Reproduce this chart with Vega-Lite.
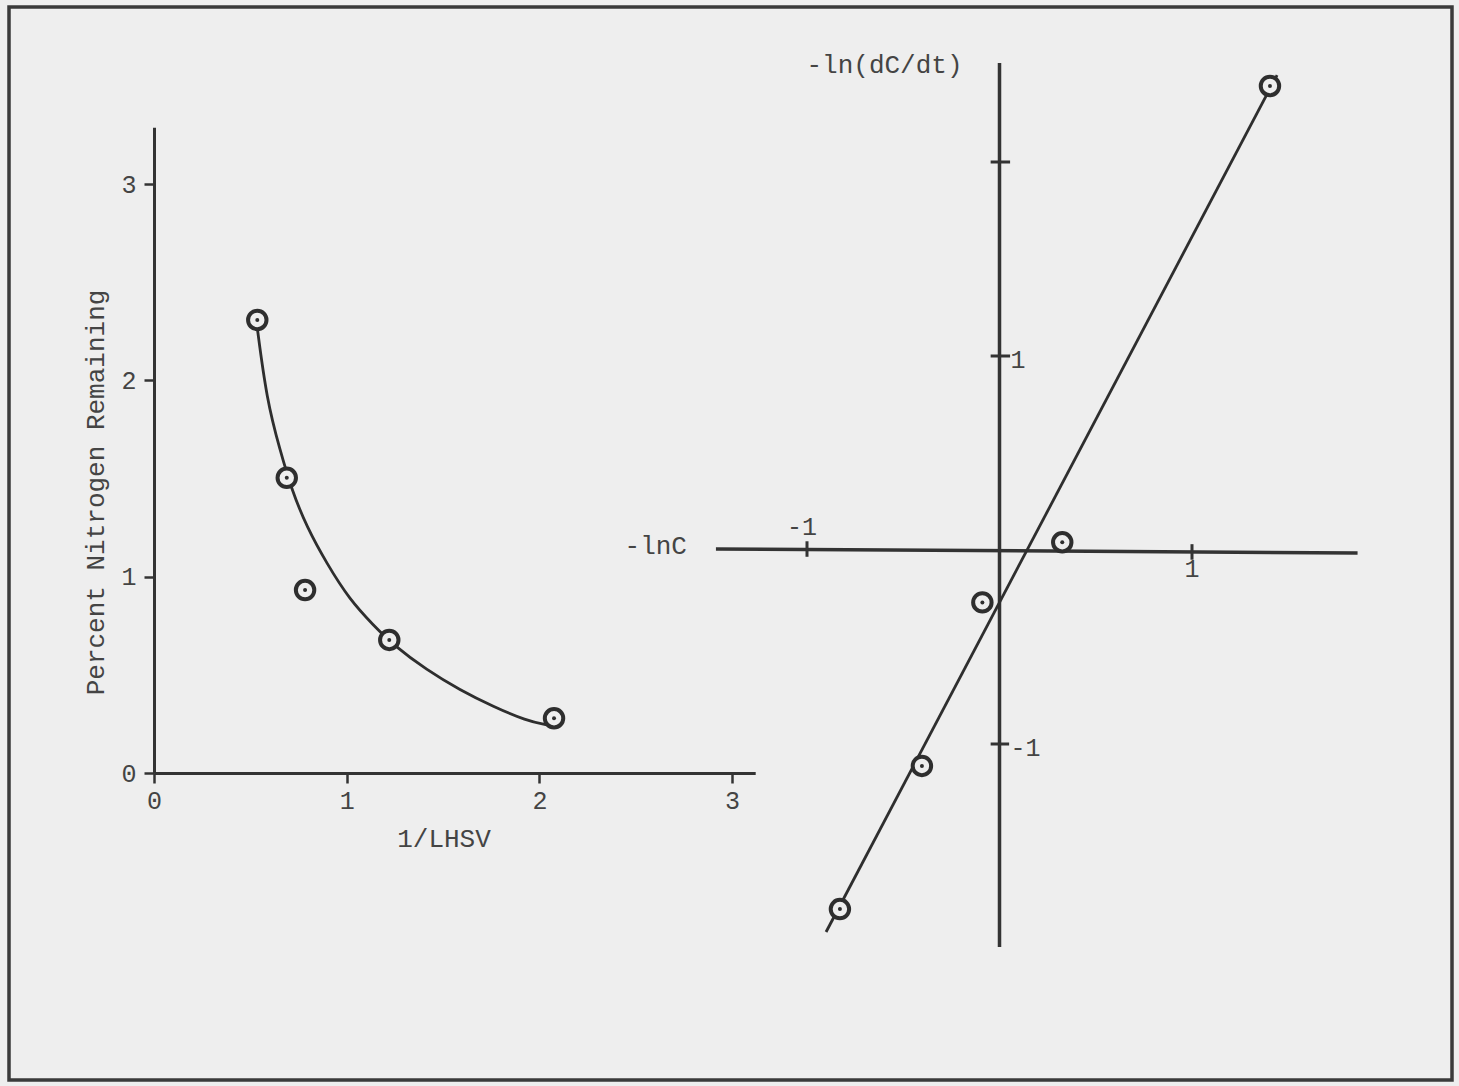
{
  "$schema": "https://vega.github.io/schema/vega-lite/v6.json",
  "width": 1443,
  "height": 1073,
  "autosize": {"type": "none"},
  "padding": {"left": 9, "top": 7, "right": 7, "bottom": 6},
  "background": "#eeeeee",
  "config": {
    "view": {"stroke": "#3a3a3a", "strokeWidth": 3.5},
    "font": "Liberation Mono"
  },
  "datasets": {
    "left_points": [
      {"x": 0.536, "y": 2.308},
      {"x": 0.689, "y": 1.504},
      {"x": 0.784, "y": 0.932},
      {"x": 1.221, "y": 0.678},
      {"x": 2.076, "y": 0.279}
    ],
    "left_curve": [
      {"x": 0.533, "y": 2.29},
      {"x": 0.585, "y": 1.9},
      {"x": 0.654, "y": 1.645},
      {"x": 0.715, "y": 1.442},
      {"x": 0.792, "y": 1.255},
      {"x": 0.896, "y": 1.068},
      {"x": 1.017, "y": 0.881},
      {"x": 1.138, "y": 0.754},
      {"x": 1.242, "y": 0.652},
      {"x": 1.415, "y": 0.525},
      {"x": 1.588, "y": 0.423},
      {"x": 1.761, "y": 0.338},
      {"x": 1.934, "y": 0.266},
      {"x": 2.038, "y": 0.245}
    ],
    "right_points": [
      {"x": 1.405, "y": 2.392},
      {"x": 0.326, "y": 0.04},
      {"x": -0.089, "y": -0.27},
      {"x": -0.403, "y": -1.113},
      {"x": -0.829, "y": -1.851}
    ],
    "right_line": [
      {"x": -0.901, "y": -1.969},
      {"x": 1.442, "y": 2.448}
    ],
    "right_axes": [
      {"x": -1.473, "y": 0.005, "x2": 1.86, "y2": -0.015},
      {"x": 0, "y": -2.046, "x2": 0, "y2": 2.51}
    ],
    "right_ticks": [
      {"x": -1, "y": 0.045, "x2": -1, "y2": -0.035},
      {"x": 1, "y": 0.03, "x2": 1, "y2": -0.05},
      {"x": -0.046, "y": 2, "x2": 0.055, "y2": 2},
      {"x": -0.046, "y": 1, "x2": 0.055, "y2": 1},
      {"x": -0.046, "y": -1, "x2": 0.05, "y2": -1}
    ],
    "label_above": [{"x": -1, "y": 0, "label": "-1"}],
    "label_below": [{"x": 1, "y": 0, "label": "1"}],
    "label_right": [
      {"x": 0, "y": 1, "label": "1"},
      {"x": 0, "y": -1, "label": "-1"}
    ],
    "title_h": [{"x": -1.473, "y": 0, "label": "-lnC"}],
    "title_v": [{"x": 0, "y": 2.51, "label": "-ln(dC/dt)"}]
  },
  "layer": [
    {
      "encoding": {
        "x": {
          "field": "x", "type": "quantitative",
          "scale": {"domain": [0, 3.12], "range": [145, 746.2], "nice": false, "zero": false},
          "axis": {
            "orient": "bottom", "offset": -307, "values": [0, 1, 2, 3], "grid": false,
            "title": "1/LHSV",
            "domainColor": "#333333", "domainWidth": 3,
            "tickColor": "#333333", "tickWidth": 2.5, "tickSize": 10,
            "labelFont": "Liberation Mono", "labelFontSize": 25, "labelColor": "#444444", "labelPadding": 5, "labelFlush": false,
            "titleFont": "Liberation Mono", "titleFontSize": 26, "titleFontWeight": "normal", "titleColor": "#444444",
            "titleX": 434.5, "titleY": 65, "titleBaseline": "middle", "titleAlign": "center"
          }
        },
        "y": {
          "field": "y", "type": "quantitative",
          "scale": {"domain": [0, 3.29], "range": [766, 120.2], "nice": false, "zero": false},
          "axis": {
            "orient": "left", "offset": -145, "values": [0, 1, 2, 3], "grid": false,
            "title": "Percent Nitrogen Remaining",
            "domainColor": "#333333", "domainWidth": 3,
            "tickColor": "#333333", "tickWidth": 2.5, "tickSize": 10,
            "labelFont": "Liberation Mono", "labelFontSize": 25, "labelColor": "#444444", "labelPadding": 8, "labelFlush": false,
            "titleFont": "Liberation Mono", "titleFontSize": 26, "titleFontWeight": "normal", "titleColor": "#444444",
            "titleX": -59, "titleY": 485, "titleAngle": 270, "titleBaseline": "middle", "titleAlign": "center"
          }
        }
      },
      "layer": [
        {
          "data": {"name": "left_curve"},
          "mark": {"type": "line", "interpolate": "basis", "color": "#2e2e2e", "strokeWidth": 2.8}
        },
        {
          "data": {"name": "left_points"},
          "mark": {"type": "point", "shape": "circle", "filled": true, "fill": "#eeeeee", "stroke": "#2e2e2e", "strokeWidth": 4, "size": 340, "opacity": 1, "fillOpacity": 1}
        },
        {
          "data": {"name": "left_points"},
          "mark": {"type": "point", "shape": "circle", "filled": true, "color": "#2e2e2e", "size": 16, "opacity": 1}
        }
      ]
    },
    {
      "encoding": {
        "x": {
          "field": "x", "type": "quantitative",
          "scale": {"domain": [-1.5, 1.9], "range": [701.75, 1356.25], "nice": false, "zero": false},
          "axis": null
        },
        "y": {
          "field": "y", "type": "quantitative",
          "scale": {"domain": [-2.1, 2.6], "range": [950.4, 38.6], "nice": false, "zero": false},
          "axis": null
        }
      },
      "layer": [
        {
          "data": {"name": "right_axes"},
          "mark": {"type": "rule", "color": "#333333", "strokeWidth": 3.5},
          "encoding": {
            "x2": {"field": "x2"},
            "y2": {"field": "y2"}
          }
        },
        {
          "data": {"name": "right_ticks"},
          "mark": {"type": "rule", "color": "#333333", "strokeWidth": 3},
          "encoding": {
            "x2": {"field": "x2"},
            "y2": {"field": "y2"}
          }
        },
        {
          "data": {"name": "right_line"},
          "mark": {"type": "line", "color": "#2e2e2e", "strokeWidth": 2.8}
        },
        {
          "data": {"name": "right_points"},
          "mark": {"type": "point", "shape": "circle", "filled": true, "fill": "#eeeeee", "stroke": "#2e2e2e", "strokeWidth": 4, "size": 340, "opacity": 1, "fillOpacity": 1}
        },
        {
          "data": {"name": "right_points"},
          "mark": {"type": "point", "shape": "circle", "filled": true, "color": "#2e2e2e", "size": 16, "opacity": 1}
        },
        {
          "data": {"name": "label_above"},
          "mark": {"type": "text", "font": "Liberation Mono", "fontSize": 25, "color": "#444444", "align": "center", "baseline": "middle", "dx": -5, "dy": -23},
          "encoding": {"text": {"field": "label"}}
        },
        {
          "data": {"name": "label_below"},
          "mark": {"type": "text", "font": "Liberation Mono", "fontSize": 25, "color": "#444444", "align": "center", "baseline": "middle", "dx": 0, "dy": 19},
          "encoding": {"text": {"field": "label"}}
        },
        {
          "data": {"name": "label_right"},
          "mark": {"type": "text", "font": "Liberation Mono", "fontSize": 25, "color": "#444444", "align": "left", "baseline": "middle", "dx": 11, "dy": 4},
          "encoding": {"text": {"field": "label"}}
        },
        {
          "data": {"name": "title_h"},
          "mark": {"type": "text", "font": "Liberation Mono", "fontSize": 26, "color": "#444444", "align": "right", "baseline": "middle", "dx": -29, "dy": -4},
          "encoding": {"text": {"field": "label"}}
        },
        {
          "data": {"name": "title_v"},
          "mark": {"type": "text", "font": "Liberation Mono", "fontSize": 26, "color": "#444444", "align": "right", "baseline": "middle", "dx": -37, "dy": 2},
          "encoding": {"text": {"field": "label"}}
        }
      ]
    }
  ],
  "resolve": {
    "scale": {"x": "independent", "y": "independent"},
    "axis": {"x": "independent", "y": "independent"}
  }
}
